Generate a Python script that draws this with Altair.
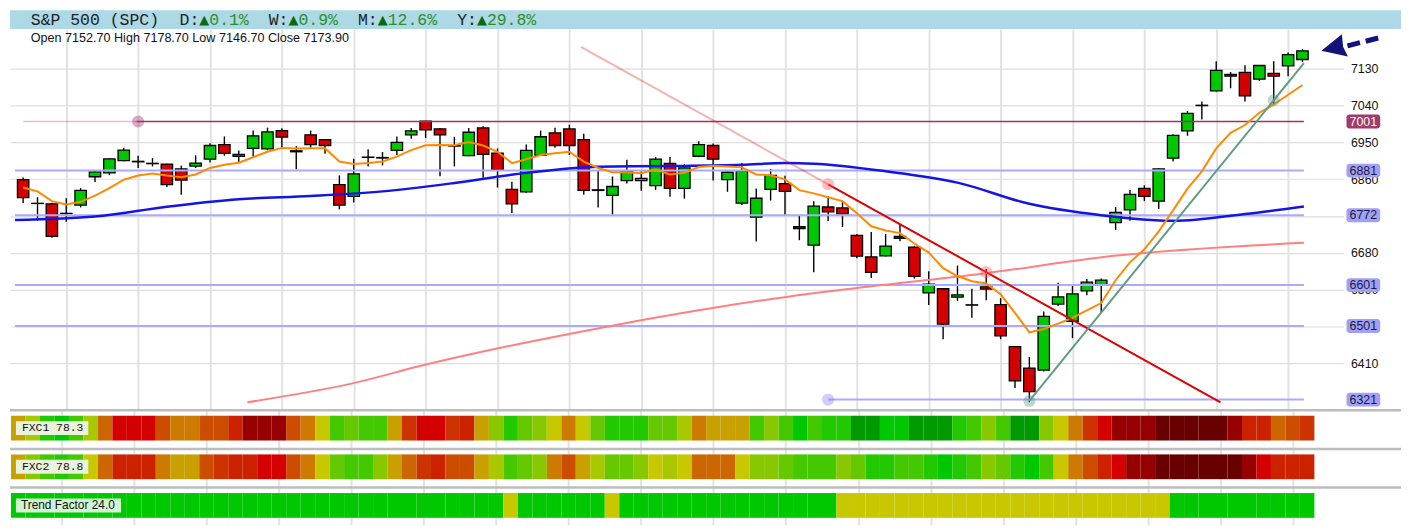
import altair as alt
import pandas as pd

# ---------------- data ----------------
opens = [6858.8, 6800.6, 6799.8, 6776.0, 6796.7, 6866.0, 6875.5, 6905.6, 6903.7, 6898.8,
         6897.0, 6885.1, 6892.2, 6908.9, 6944.7, 6916.1, 6935.2, 6934.2, 6978.9, 6929.5,
         6968.6, 6956.7, 6846.9, 6818.2, 6913.3, 6911.8, 6930.4, 6968.6, 7002.0, 6982.9,
         6941.0, 6917.5, 6985.3, 6924.0, 6834.9, 6829.2, 6918.5, 6973.4, 6982.9, 6956.7,
         6834.0, 6820.6, 6856.4, 6856.4, 6844.5, 6898.4, 6837.3, 6916.1, 6942.4, 6858.8,
         6801.5, 6767.1, 6834.9, 6849.3, 6744.2, 6698.9, 6792.0, 6789.6, 6722.7, 6670.2,
         6672.6, 6720.3, 6694.1, 6581.9, 6592.1, 6571.4, 6552.0, 6596.9, 6553.2, 6450.6,
         6398.0, 6393.3, 6554.7, 6512.6, 6586.7, 6601.0, 6753.8, 6784.8, 6837.3, 6806.3,
         6911.3, 6978.2, 7040.0, 7076.1, 7116.6, 7121.4, 7104.7, 7119.0, 7137.2, 7152.7]
highs = [6864.3, 6815.8, 6802.2, 6813.4, 6838.0, 6881.0, 6911.0, 6936.6, 6917.5, 6911.3,
         6897.7, 6892.9, 6918.5, 6947.9, 6964.6, 6930.4, 6978.9, 6986.0, 6984.4, 6940.7,
         6978.9, 6958.1, 6869.1, 6909.7, 6933.5, 6926.4, 6964.6, 6985.3, 7002.8, 6985.3,
         6963.8, 6985.3, 6989.2, 6935.2, 6854.0, 6944.7, 6978.9, 6986.0, 6993.2, 6971.0,
         6880.3, 6866.7, 6907.3, 6879.3, 6914.4, 6914.4, 6897.0, 6952.6, 6947.1, 6879.3,
         6899.4, 6837.3, 6885.1, 6868.3, 6770.5, 6806.3, 6818.2, 6807.7, 6725.8, 6730.6,
         6725.8, 6749.7, 6697.2, 6635.1, 6593.5, 6648.7, 6592.1, 6640.6, 6569.0, 6451.5,
         6425.0, 6536.5, 6606.5, 6598.6, 6616.0, 6617.0, 6792.0, 6833.3, 6845.2, 6886.0,
         6970.1, 7026.6, 7049.8, 7148.4, 7122.1, 7138.8, 7139.0, 7148.4, 7169.9, 7178.7]
lows = [6801.5, 6758.5, 6717.0, 6756.2, 6791.0, 6853.1, 6869.8, 6904.0, 6887.5, 6891.3,
        6841.1, 6822.0, 6887.5, 6900.8, 6917.5, 6901.8, 6915.1, 6931.1, 6936.6, 6884.1,
        6936.6, 6922.3, 6786.2, 6802.9, 6891.3, 6893.7, 6919.2, 6959.1, 6960.5, 6867.4,
        6891.3, 6916.0, 6863.6, 6839.7, 6777.6, 6826.8, 6917.0, 6936.6, 6919.2, 6822.0,
        6791.0, 6772.9, 6849.3, 6831.6, 6834.0, 6817.3, 6812.5, 6913.7, 6857.1, 6829.2,
        6796.7, 6707.5, 6807.7, 6770.5, 6710.8, 6632.7, 6757.6, 6743.3, 6666.9, 6618.4,
        6671.0, 6708.4, 6616.7, 6552.3, 6468.7, 6562.8, 6521.2, 6564.2, 6468.7, 6349.4,
        6314.5, 6389.9, 6549.9, 6471.1, 6576.1, 6533.2, 6736.1, 6758.5, 6806.3, 6787.2,
        6903.2, 6966.2, 7005.9, 7073.7, 7082.3, 7049.8, 7100.6, 7041.7, 7111.9, 7146.7]
closes = [6814.9, 6801.0, 6720.3, 6776.5, 6832.5, 6877.9, 6909.7, 6931.1, 6902.5, 6898.0,
          6846.9, 6857.9, 6899.4, 6942.4, 6923.3, 6920.9, 6966.2, 6975.8, 6962.9, 6927.1,
          6944.7, 6942.4, 6796.7, 6873.1, 6914.0, 6913.0, 6950.2, 6978.2, 6980.6, 6968.6,
          6942.0, 6974.8, 6920.9, 6882.7, 6799.8, 6930.4, 6963.8, 6942.4, 6942.4, 6832.5,
          6832.5, 6842.1, 6879.3, 6861.9, 6908.9, 6837.3, 6887.5, 6944.7, 6908.9, 6877.0,
          6880.3, 6813.4, 6869.1, 6830.2, 6739.4, 6794.3, 6780.0, 6775.3, 6671.6, 6632.0,
          6696.5, 6715.6, 6622.5, 6603.4, 6505.5, 6577.1, 6552.8, 6591.4, 6476.8, 6367.0,
          6340.7, 6524.6, 6572.3, 6579.5, 6608.1, 6612.9, 6779.1, 6823.0, 6818.2, 6885.1,
          6967.0, 7021.1, 7040.8, 7126.2, 7111.9, 7064.1, 7138.1, 7111.9, 7164.4, 7173.9]

ema_short = [6839.7, 6830.2, 6806.3, 6798.2, 6804.6, 6819.7, 6838.0, 6858.8, 6869.1, 6873.8,
             6869.1, 6865.0, 6871.5, 6887.5, 6895.3, 6900.1, 6913.7, 6927.1, 6936.6, 6935.2,
             6935.9, 6935.9, 6903.2, 6897.0, 6899.4, 6903.2, 6915.1, 6931.1, 6943.1, 6943.8,
             6943.1, 6951.0, 6942.4, 6927.1, 6899.4, 6908.9, 6919.2, 6923.3, 6927.1, 6903.2,
             6887.5, 6877.0, 6877.0, 6874.6, 6883.4, 6871.5, 6875.5, 6889.8, 6892.9, 6891.3,
             6888.9, 6871.5, 6869.8, 6859.5, 6833.3, 6825.4, 6815.8, 6806.3, 6776.7, 6744.9,
             6734.7, 6728.2, 6702.7, 6680.5, 6642.3, 6623.2, 6610.5, 6604.8, 6578.5, 6533.2,
             6485.4, 6493.5, 6506.9, 6521.2, 6538.9, 6557.1, 6612.9, 6656.6, 6688.4, 6732.3,
             6783.8, 6836.8, 6879.3, 6935.2, 6973.4, 6992.5, 7022.6, 7042.6, 7066.5, 7090.4]

sma50_idx = [-0.57, 5, 10, 15, 20, 25, 30, 35, 40, 45, 50, 53, 55, 60, 65, 70, 75, 80, 85, 89.1]
sma50_val = [6760.0, 6768.5, 6792.7, 6811.1, 6818.9, 6830.2, 6850.7, 6875.5, 6890.6, 6892.2,
             6895.3, 6899.4, 6897.7, 6879.3, 6851.6, 6799.8, 6771.9, 6758.1, 6774.8, 6793.4]

sma200_idx = [15.6, 22.9, 27.95, 32.96, 37.98, 42.97, 47.96, 52.97, 57.6, 66.7, 75.9, 89.1]
sma200_val = [6314.5, 6360.6, 6406.0, 6445.8, 6481.6, 6515.0, 6545.1, 6571.4, 6592.1, 6628.7, 6672.6, 6704.3]

levels = [7001, 6881, 6772, 6601, 6501, 6321]
level_kind = ["maroon", "lav", "lav", "lav", "lav", "lav"]
level_from = [7.9, -0.57, -0.57, -0.57, -0.57, 56]
level_to = [89.1, 89.1, 89.1, 89.1, 89.1, 89.1]
ghost_level = [7001]
ghost_from = [0]
ghost_to = [7.9]

down_trend_idx = [38.8, 56, 83.3]
down_trend_val = [7183.6, 6847.6, 6314.3]
up_trend_idx = [70, 89.1]
up_trend_val = [6317.6, 7143.7]

anchor_idx = [8, 56, 67, 56, 70, 87]
anchor_val = [7001, 6847.6, 6632.7, 6321, 6317.6, 7052.9]
anchor_kind = ["maroon", "red", "red", "lav", "teal", "teal"]

y_ticks = [6410, 6500, 6590, 6680, 6770, 6860, 6950, 7040, 7130]
grid_idx = [3, 8, 13, 18, 23, 28, 33, 38, 43, 48, 53, 58, 63, 68, 73, 78, 83, 88]

fxc1_value = 78.3
fxc2_value = 78.8
tf_value = 24.0
fxc1 = [0, 2, 6, 7, 5, 2, -2, -6, -6, -6,
        -3, -1, -1, -3, -3, -5, -7, -7, -7, -3,
        -1, 1, 5, 4, 5, 5, 0, -4, -6, -6,
        -4, -5, 0, 3, 6, 4, 3, 1, -1, 1,
        4, 6, 6, 6, 4, 4, 2, -1, 0, 0,
        0, 5, 3, 5, 7, 5, 6, 6, 8, 8,
        7, 7, 8, 8, 8, 6, 5, 3, 5, 8,
        8, 3, 1, -1, -4, -6, -7, -7, -7, -8,
        -8, -8, -8, -8, -7, -5, -5, -2, -3, -4]
fxc2 = [0, 3, 5, 6, 5, 1, -2, -5, -5, -5,
        -1, 0, 0, -3, -4, -5, -5, -6, -6, -3,
        -1, 1, 4, 5, 5, 3, 0, -2, -4, -5,
        -3, -3, 0, 2, 5, 4, 3, -1, -3, 0,
        2, 4, 4, 3, 1, 2, 1, -2, -2, -2,
        1, 3, 3, 4, 5, 5, 5, 3, 4, 6,
        6, 5, 5, 6, 7, 6, 5, 3, 4, 6,
        7, 5, 1, -1, -3, -5, -6, -7, -7, -8,
        -8, -8, -8, -8, -8, -7, -6, -5, -5, -5]
trend_factor = [7, 7, 7, 7, 7, 7, 7, 7, 7, 7,
                7, 7, 7, 7, 7, 7, 7, 7, 7, 7,
                7, 7, 7, 7, 7, 7, 7, 7, 7, 7,
                7, 7, 7, 7, 1, 7, 7, 7, 7, 7,
                7, 1, 7, 7, 7, 7, 7, 7, 7, 7,
                7, 7, 7, 7, 7, 7, 7, 1, 1, 1,
                1, 1, 1, 1, 1, 1, 1, 1, 1, 1,
                1, 1, 1, 1, 1, 1, 1, 1, 1, 1,
                7, 7, 7, 7, 7, 7, 7, 7, 7, 7]

score_domain = [8, 7, 6, 5, 4, 3, 2, 1, 0, -1, -2, -3, -4, -5, -6, -7, -8]
score_colors = ["#009900", "#00c800", "#22c800", "#44c800", "#66c800", "#88c800", "#aac800",
                "#c8c800", "#c8a000", "#cc7a00", "#cc6600", "#cc4c00", "#cc3300", "#cc2200",
                "#d40000", "#960000", "#680000"]

header_title = "S&P 500 (SPC)"
header_periods = ["D", "W", "M", "Y"]
header_changes = [0.1, 0.9, 12.6, 29.8]

# ---------------- scales / axes ----------------
W_MAIN = 1345
H_MAIN = 383
xs = alt.Scale(domain=[-0.57, 91.51], nice=False, zero=False)
ys = alt.Scale(domain=[6298.5, 7227.2], nice=False, zero=False)

x_axis = alt.Axis(values=grid_idx, labels=False, ticks=False, domain=False, grid=True,
                  gridColor="#e2e2e2", gridWidth=2, title=None)
y_axis = alt.Axis(orient="right", values=y_ticks, format="d", domain=False, ticks=False, labelPadding=7,
                  labelFont="Liberation Sans", labelFontSize=12.5, labelColor="#111111",
                  labelOverlap=False, grid=True, gridColor="#dedede", gridWidth=1.2, title=None)


def X(field):
    return alt.X(field, type="quantitative", scale=xs, axis=x_axis)


def Y(field):
    return alt.Y(field, type="quantitative", scale=ys, axis=y_axis)


# ---------------- main price panel ----------------
candles = pd.DataFrame({"i": list(range(len(opens))), "o": opens, "h": highs, "l": lows, "c": closes})
candles["dir"] = ["up" if c >= o else "down" for o, c in zip(opens, closes)]

wicks = alt.Chart(candles).mark_rule(color="#000000", strokeWidth=1.4).encode(
    x=X("i"), y=Y("l"), y2="h:Q")
bodies = alt.Chart(candles).mark_bar(size=11.5, stroke="#000000", strokeWidth=1.3).encode(
    x=X("i"), y=Y("o"), y2="c:Q",
    color=alt.Color("dir:N", scale=alt.Scale(domain=["up", "down"], range=["#00c800", "#d40000"]), legend=None),
)

lv = pd.DataFrame({"level": levels, "kind": level_kind, "x0": level_from, "x1": level_to})
lav_lines = alt.Chart(lv).transform_filter("datum.kind == 'lav'").mark_rule(
    color="#aaaaff", strokeWidth=2).encode(x=X("x0"), x2="x1:Q", y=Y("level"))
maroon_line = alt.Chart(lv).transform_filter("datum.kind == 'maroon'").mark_rule(
    color="#a0306a", strokeWidth=1.6).encode(x=X("x0"), x2="x1:Q", y=Y("level"))
gh = pd.DataFrame({"level": ghost_level, "x0": ghost_from, "x1": ghost_to})
maroon_ghost = alt.Chart(gh).mark_rule(color="#a0306a", strokeWidth=1.6, opacity=0.3).encode(
    x=X("x0"), x2="x1:Q", y=Y("level"))


def line_layer(idx, vals, color, width, interp="linear", opacity=1.0):
    df = pd.DataFrame({"i": idx, "v": vals})
    return alt.Chart(df).mark_line(color=color, strokeWidth=width, interpolate=interp, opacity=opacity).encode(
        x=X("i"), y=Y("v"))


sma200_line = line_layer(sma200_idx, sma200_val, "#ff8080", 2, "monotone")
sma50_line = line_layer(sma50_idx, sma50_val, "#1414e6", 2.5, "monotone")
ema_line = line_layer(list(range(len(ema_short))), ema_short, "#ff8a00", 2)
ghost_trend = line_layer(down_trend_idx[:2], down_trend_val[:2], "#dd0000", 2, opacity=0.3)
red_trend = line_layer(down_trend_idx[1:], down_trend_val[1:], "#dd0000", 2)
teal_trend = line_layer(up_trend_idx, up_trend_val, "#5f9c84", 2)

anchors = pd.DataFrame({"i": anchor_idx, "v": anchor_val, "kind": anchor_kind})
dots = alt.Chart(anchors).mark_circle(size=150, opacity=0.4).encode(
    x=X("i"), y=Y("v"),
    color=alt.Color("kind:N", scale=alt.Scale(domain=["maroon", "red", "lav", "teal"],
                                              range=["#a0306a", "#ff5a5a", "#8888ff", "#5f9c84"]), legend=None))

badges = pd.DataFrame({"level": levels, "kind": level_kind, "label": [str(v) for v in levels]})
badge_rect = alt.Chart(badges).transform_calculate(
    lo="datum.level - 17", hi="datum.level + 17").mark_rect(cornerRadius=3).encode(
    x=alt.value(1348), x2=alt.value(1382), y=Y("lo"), y2="hi:Q",
    color=alt.Color("kind:N", scale=alt.Scale(domain=["maroon", "lav"], range=["#a03a68", "#a0a0f6"]), legend=None))
badge_text = alt.Chart(badges).mark_text(font="Liberation Sans", fontSize=12.5, align="center", baseline="middle").encode(
    x=alt.value(1365), y=Y("level"), text="label:N",
    color=alt.Color("kind:N", scale=alt.Scale(domain=["maroon", "lav"], range=["#ffffff", "#1a1a40"]), legend=None))

last = pd.DataFrame({"v": [closes[-1]]})
arrow_tail = alt.Chart(last).transform_calculate(a="datum.v + 12", b="datum.v + 32").mark_rule(
    color="#12127a", strokeWidth=5, strokeDash=[13, 6]).encode(
    x=alt.value(1349), x2=alt.value(1381), y=Y("a"), y2="b:Q")
arrow_head = alt.Chart(last).mark_point(
    shape="M 0 0 L 1.53 -1.24 L 1.62 -0.3 L 1.98 0.42 Z", size=729, filled=True, opacity=1,
    color="#12127a").encode(x=alt.value(1322.7), y=Y("v"))

ohlc = pd.DataFrame({"t": ["Open %.2f High %.2f Low %.2f Close %.2f" % (opens[-1], highs[-1], lows[-1], closes[-1])]})
ohlc_text = alt.Chart(ohlc).mark_text(align="left", baseline="middle", font="Liberation Sans",
                                      fontSize=12.7, color="#111111").encode(
    x=alt.value(21), y=alt.value(9), text="t:N")

main = alt.layer(
    wicks, bodies, lav_lines, maroon_ghost, maroon_line, sma200_line, sma50_line, ema_line,
    ghost_trend, red_trend, teal_trend, dots, badge_rect, badge_text, arrow_tail, arrow_head, ohlc_text
).resolve_scale(color="independent").properties(width=W_MAIN, height=H_MAIN)

# ---------------- indicator strips ----------------
strip_rows = ["FXC1 %.1f" % fxc1_value, "FXC2 %.1f" % fxc2_value, "Trend Factor %.1f" % tf_value]
recs = []
for name, vals in zip(strip_rows, [fxc1, fxc2, trend_factor]):
    for k, s in enumerate(vals):
        recs.append({"row": name, "x0": k - 0.5, "x1": k + 0.5, "score": s})
strip_df = pd.DataFrame(recs)
band = alt.Scale(domain=strip_rows, paddingInner=14 / 39, paddingOuter=7 / 39)


def R():
    return alt.Y("row:N", scale=band, axis=None)


cells = alt.Chart(strip_df).mark_rect().encode(
    x=X("x0"), x2="x1:Q", y=R(),
    color=alt.Color("score:O", scale=alt.Scale(domain=score_domain, range=score_colors), legend=None))
rows_df = pd.DataFrame({"row": strip_rows})
separators = alt.Chart(rows_df).mark_rule(color="#bdbdbd", strokeWidth=2.5, yOffset=-18).encode(
    y=R(), x=alt.value(0), x2=alt.value(1403))
box_fxc = alt.Chart(rows_df).transform_filter("indexof(datum.row, 'FXC') == 0").mark_bar(
    size=14, color="#e9f3dc").encode(y=R(), x=alt.value(6), x2=alt.value(79))
box_tf = alt.Chart(rows_df).transform_filter("indexof(datum.row, 'Trend') == 0").mark_bar(
    size=14, color="#d2f4d2").encode(y=R(), x=alt.value(6), x2=alt.value(112))
txt_fxc = alt.Chart(rows_df).transform_filter("indexof(datum.row, 'FXC') == 0").mark_text(
    align="left", baseline="middle", font="Liberation Mono", fontSize=11.5, color="#111111").encode(
    y=R(), x=alt.value(12), text="row:N")
txt_tf = alt.Chart(rows_df).transform_filter("indexof(datum.row, 'Trend') == 0").mark_text(
    align="left", baseline="middle", font="Liberation Sans", fontSize=12, color="#111111").encode(
    y=R(), x=alt.value(11), text="row:N")

strips = alt.layer(cells, separators, box_fxc, box_tf, txt_fxc, txt_tf).resolve_scale(
    color="independent").properties(width=W_MAIN, height=117)

# ---------------- header ----------------
hdr = [{"t": header_title, "px": 21, "k": "label"}]
col = len(header_title) + 2
for p, ch in zip(header_periods, header_changes):
    hdr.append({"t": p + ":", "px": 21 + 10 * col, "k": "label"})
    hdr.append({"t": "\u25b2", "px": 21 + 10 * (col + 2), "k": "tri"})
    val = "%.1f%%" % ch
    hdr.append({"t": val, "px": 21 + 10 * (col + 3), "k": "val"})
    col += 3 + len(val) + 2
hdr_df = pd.DataFrame(hdr)

hdr_text = alt.Chart(hdr_df).transform_filter("datum.k != 'tri'").mark_text(
    align="left", baseline="middle", font="Liberation Mono", fontSize=16.6).encode(
    x=alt.X("px:Q", scale=None), y=alt.value(10), text="t:N",
    color=alt.Color("k:N", scale=alt.Scale(domain=["label", "val"], range=["#222222", "#2a8f2a"]), legend=None))
hdr_tri = alt.Chart(hdr_df).transform_filter("datum.k == 'tri'").mark_text(
    align="left", baseline="middle", font="DejaVu Sans", fontSize=13, color="#0a6a0a").encode(
    x=alt.X("px:Q", scale=None), y=alt.value(10), text="t:N")
header = alt.layer(hdr_text, hdr_tri).properties(
    width=1403, height=19, view=alt.ViewBackground(fill="#add8e6", strokeWidth=0))

chart = alt.vconcat(header, main, strips, spacing=0).properties(padding=0).configure_view(strokeWidth=0)
chart.save("out.html", embed_options={"renderer": "svg", "actions": False})
